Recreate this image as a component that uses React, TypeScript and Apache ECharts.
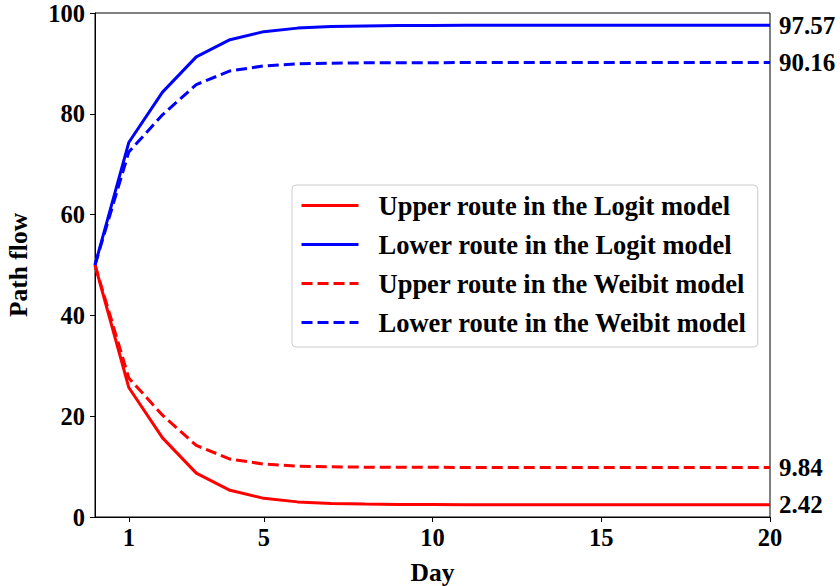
import React, { useEffect, useRef } from "react";
import * as echarts from "echarts";

const days = [0, 1, 2, 3, 4, 5, 6, 7, 8, 9, 10, 11, 12, 13, 14, 15, 16, 17, 18, 19, 20];
const upperLogit = [50, 25.7, 15.7, 8.7, 5.3, 3.7, 3.0, 2.7, 2.56, 2.49, 2.46, 2.44, 2.43, 2.43, 2.42, 2.42, 2.42, 2.42, 2.42, 2.42, 2.42];
const lowerLogit = [50, 74.3, 84.3, 91.3, 94.7, 96.3, 97.0, 97.3, 97.44, 97.51, 97.54, 97.56, 97.57, 97.57, 97.57, 97.57, 97.57, 97.57, 97.57, 97.57, 97.57];
const upperWeibit = [50, 27.6, 20.2, 14.2, 11.5, 10.5, 10.1, 9.95, 9.89, 9.86, 9.85, 9.84, 9.84, 9.84, 9.84, 9.84, 9.84, 9.84, 9.84, 9.84, 9.84];
const lowerWeibit = [50, 72.4, 79.8, 85.8, 88.5, 89.5, 89.9, 90.05, 90.11, 90.14, 90.15, 90.16, 90.16, 90.16, 90.16, 90.16, 90.16, 90.16, 90.16, 90.16, 90.16];
const xTicks = [1, 5, 10, 15, 20];
const seriesNames = [
  "Upper route in the Logit model",
  "Lower route in the Logit model",
  "Upper route in the Weibit model",
  "Lower route in the Weibit model",
];

const FONT = "'Liberation Serif', 'Times New Roman', serif";

export default function App() {
  const ref = useRef<HTMLDivElement>(null);
  useEffect(() => {
    if (!ref.current) return;
    const chart = echarts.init(ref.current, null, { renderer: "svg" });
    const mk = (name: string, vals: number[], color: string, dashed: boolean) => ({
      name,
      type: "line",
      data: days.map((d, i) => [d, vals[i]]),
      symbol: "none",
      lineStyle: { color, width: 3, type: dashed ? [11, 5] : "solid" },
      itemStyle: { color },
      endLabel: {
        show: true,
        distance: 9,
        formatter: (p: any) => Number(p.value[1]).toFixed(2),
        color: "#000",
        fontFamily: FONT,
        fontWeight: "bold",
        fontSize: 25,
      },
    });
    chart.setOption({
      animation: false,
      backgroundColor: "#fff",
      grid: {
        left: 95,
        right: 70,
        top: 13,
        bottom: 69,
        show: true,
        borderColor: "#000",
        borderWidth: 1,
        outerBoundsMode: "none",
        containLabel: false,
      },
      legend: {
        orient: "vertical",
        left: 292,
        top: 185,
        padding: [7, 11, 11, 8],
        itemWidth: 57,
        itemHeight: 14,
        itemGap: 12,
        borderColor: "#ccc",
        borderWidth: 1,
        borderRadius: 4,
        backgroundColor: "#fff",
        itemStyle: { opacity: 0 },
        lineStyle: { width: 3 },
        textStyle: {
          fontFamily: FONT,
          fontWeight: "bold",
          fontSize: 26.5,
          color: "#000",
          padding: [0, 0, 0, 15],
        },
        data: seriesNames,
      },
      xAxis: {
        type: "value",
        min: 0,
        max: 20,
        name: "Day",
        nameLocation: "middle",
        nameGap: 42,
        nameTextStyle: { fontFamily: FONT, fontWeight: "bold", fontSize: 25.5, color: "#000" },
        axisLine: { show: true, lineStyle: { color: "#000", width: 1 } },
        axisTick: { show: true, length: 5, lineStyle: { color: "#000" }, customValues: xTicks },
        axisLabel: {
          fontFamily: FONT,
          fontWeight: "bold",
          fontSize: 24.5,
          color: "#000",
          margin: 8,
          customValues: xTicks,
        },
        splitLine: { show: false },
      },
      yAxis: {
        type: "value",
        min: 0,
        max: 100,
        interval: 20,
        name: "Path flow",
        nameLocation: "middle",
        nameGap: 64,
        nameTextStyle: { fontFamily: FONT, fontWeight: "bold", fontSize: 25.5, color: "#000" },
        axisLine: { show: true, lineStyle: { color: "#000", width: 1 } },
        axisTick: { show: true, length: 5, lineStyle: { color: "#000" } },
        axisLabel: { fontFamily: FONT, fontWeight: "bold", fontSize: 24.5, color: "#000", margin: 10 },
        splitLine: { show: false },
      },
      series: [
        mk(seriesNames[0], upperLogit, "#ff0000", false),
        mk(seriesNames[1], lowerLogit, "#0000ff", false),
        mk(seriesNames[2], upperWeibit, "#ff0000", true),
        mk(seriesNames[3], lowerWeibit, "#0000ff", true),
      ],
    });
    return () => chart.dispose();
  }, []);
  return (
    <div
      ref={ref}
      style={{ position: "fixed", left: 0, top: 0, width: 840, height: 586, background: "#fff" }}
    />
  );
}
